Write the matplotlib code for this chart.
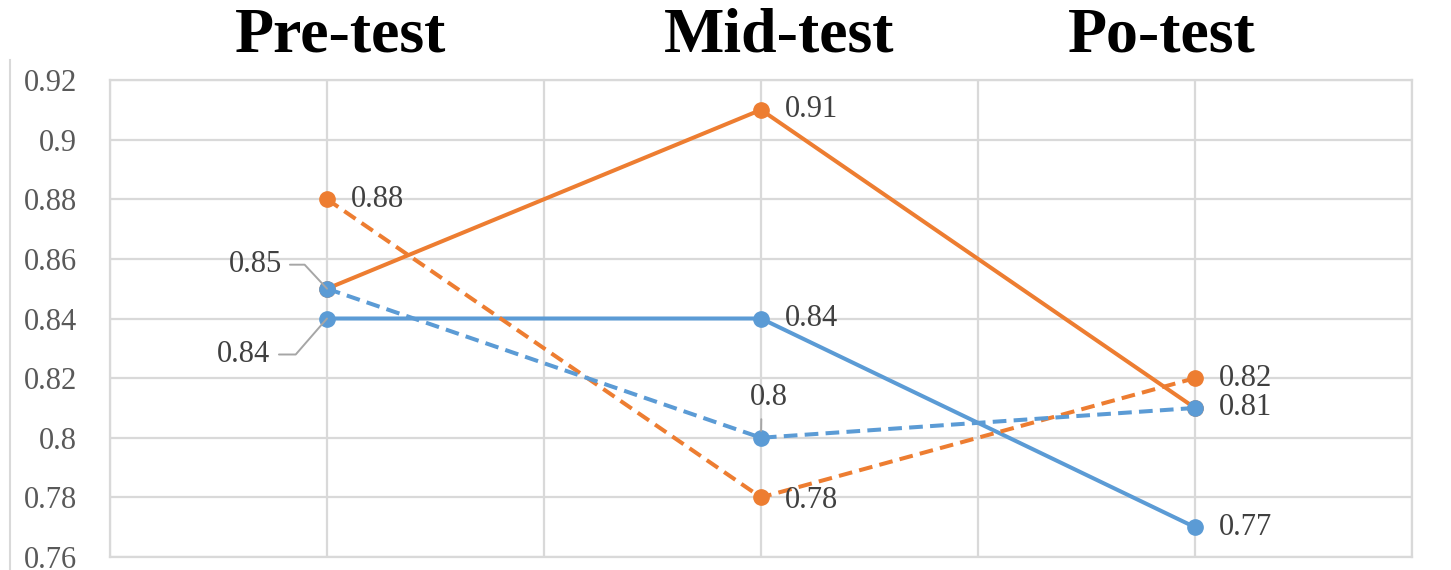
import matplotlib
matplotlib.use("Agg")
import matplotlib.pyplot as plt

# ---- data ----
categories = ["Pre-test", "Mid-test", "Po-test"]
orange_solid = [0.85, 0.91, 0.81]
orange_dashed = [0.88, 0.78, 0.82]
blue_solid = [0.84, 0.84, 0.77]
blue_dashed = [0.85, 0.80, 0.81]
y_ticks = [0.76, 0.78, 0.80, 0.82, 0.84, 0.86, 0.88, 0.90, 0.92]

ORANGE = "#ED7D31"
BLUE = "#5B9BD5"
GRID = "#D9D9D9"
SERIF = ["Liberation Serif", "DejaVu Serif"]

W, H = 1451, 570
fig = plt.figure(figsize=(W / 100, H / 100), dpi=100)
ax = fig.add_axes([110 / W, 1 - 557 / H, (1412 - 110) / W, (557 - 80) / H])

x = list(range(len(categories)))
lw = 2.9
ms = 11
dash = (3.4, 1.8)

ax.plot(x, orange_solid, color=ORANGE, lw=lw, marker="o", ms=ms, zorder=3)
ax.plot(x, blue_solid, color=BLUE, lw=lw, marker="o", ms=ms, zorder=4)
ax.plot(x, orange_dashed, color=ORANGE, lw=lw, marker="o", ms=ms, zorder=5,
        linestyle=(0, dash))
ax.plot(x, blue_dashed, color=BLUE, lw=lw, marker="o", ms=ms, zorder=6,
        linestyle=(0, dash))

ax.set_xlim(-0.5, len(categories) - 0.5)
ax.set_ylim(y_ticks[0], y_ticks[-1])
ax.set_yticks(y_ticks)
ax.set_yticklabels([f"{round(v, 2):g}" for v in y_ticks])
ax.set_xticks([i * 0.5 - 0.5 for i in range(2 * len(categories) + 1)])
ax.set_xticklabels([])
ax.tick_params(axis="both", length=0)
ax.tick_params(axis="y", pad=24, labelsize=22, labelcolor="#595959")
for lab in ax.get_yticklabels():
    lab.set_family(SERIF)
ax.grid(True, color=GRID, lw=1.6, zorder=0)
ax.set_axisbelow(True)
for s in ax.spines.values():
    s.set_color(GRID)
    s.set_linewidth(1.6)

lab_kw = dict(textcoords="offset pixels", fontsize=22, color="#404040",
              family=SERIF, va="center", zorder=10)

def right_label(xi, yv, txt, dy=0):
    ax.annotate(txt, (xi, yv), xytext=(24, dy), ha="left", **lab_kw)

# labels to the right of the points
right_label(0, orange_dashed[0], f"{orange_dashed[0]:g}")
right_label(1, orange_solid[1], f"{orange_solid[1]:g}")
right_label(1, blue_solid[1], f"{blue_solid[1]:g}")
right_label(1, orange_dashed[1], f"{orange_dashed[1]:g}", dy=-3)
right_label(2, orange_dashed[2], f"{orange_dashed[2]:g}")
right_label(2, orange_solid[2], f"{orange_solid[2]:g}")
right_label(2, blue_solid[2], f"{blue_solid[2]:g}")

leader = dict(arrowstyle="-", color="#A6A6A6", lw=1.4)

# leader-line labels at Pre-test
ax.annotate(f"{blue_dashed[0]:g}", (0, blue_dashed[0]), xytext=(-72, 24),
            ha="center",
            arrowprops=dict(leader, relpos=(1, 0.5), shrinkA=4, shrinkB=0,
                            connectionstyle="angle,angleA=0,angleB=-47,rad=0"),
            **lab_kw)
ax.annotate(f"{blue_solid[0]:g}", (0, blue_solid[0]), xytext=(-83, -36),
            ha="center",
            arrowprops=dict(leader, relpos=(1, 0.5), shrinkA=4, shrinkB=0,
                            connectionstyle="angle,angleA=0,angleB=49,rad=0"),
            **lab_kw)
# leader-line label at Mid-test (0.8)
ax.annotate(f"{blue_dashed[1]:g}", (1, blue_dashed[1]), xytext=(8, 40),
            ha="center",
            arrowprops=dict(leader, relpos=(0.3, 0), shrinkA=3, shrinkB=5),
            **lab_kw)

# outer chart frame line on the left
fig.add_artist(plt.Line2D([10 / W, 10 / W], [0, 1 - 60 / H],
                          color=GRID, lw=1.5, transform=fig.transFigure))

# category titles at the top
title_x = [341, 779, 1162]
for cx, name in zip(title_x, categories):
    fig.text(cx / W, 1 - 37 / H, name, ha="center", va="center",
             fontsize=46, fontweight="bold", family=SERIF, color="black")

fig.savefig("out.png", dpi=100)
